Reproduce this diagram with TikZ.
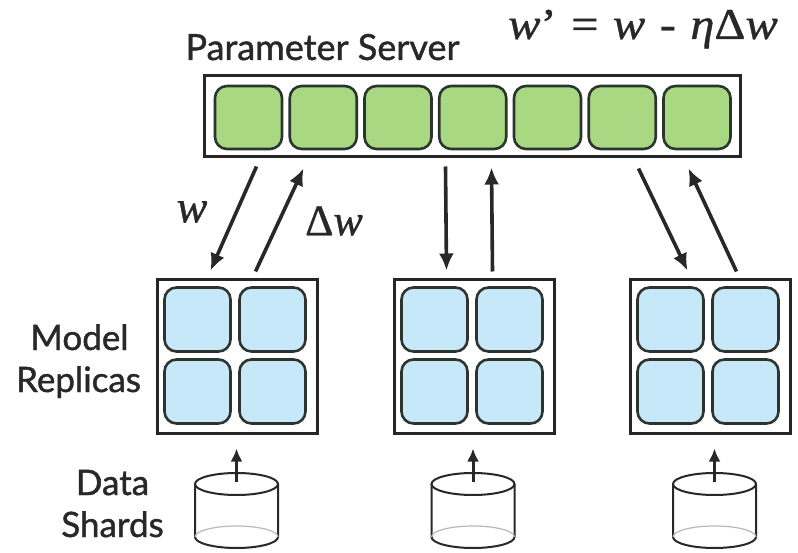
\documentclass[tikz,border=0pt]{standalone}
\usepackage{fontspec}
\usepackage{graphicx}
\setmainfont{Lato}
\newfontfamily\lblfont[FakeBold=1.2]{Lato}
\newfontfamily\eqfont[FakeBold=0.8]{Liberation Serif}
\usetikzlibrary{arrows.meta,calc}
\definecolor{psgreen}{RGB}{168,216,130}
\definecolor{repblue}{RGB}{198,232,248}
\definecolor{cellline}{RGB}{45,52,48}
\definecolor{ink}{RGB}{40,40,40}
\newcommand{\gap}{\hspace{0.3em}}
\begin{document}
\begin{tikzpicture}[x=1pt,y=-1pt,
  frame/.style={rectangle, draw=black!85, line width=3pt, fill=white, inner sep=0pt},
  pcell/.style={rectangle, draw=cellline, line width=2.6pt, rounded corners=12pt,
    fill=psgreen, minimum width=67pt, minimum height=63pt, inner sep=0pt},
  rcell/.style={rectangle, draw=cellline, line width=2.6pt, rounded corners=12pt,
    fill=repblue, minimum width=66pt, minimum height=64pt, inner sep=0pt},
  flow/.style={draw=ink, line width=3.6pt, -{Latex[length=17pt,width=15pt]}},
  feed/.style={draw=ink, line width=3pt, -{Latex[length=13pt,width=12pt]}},
  cyl/.style={draw=ink, line width=2pt},
  lbl/.style={text=ink, font=\lblfont\fontsize{35}{40}\selectfont, inner sep=0pt},
  mathlbl/.style={text=ink, font=\eqfont\fontsize{44}{48}\selectfont, inner sep=0pt}]
\useasboundingbox (0,0) rectangle (798,553);
\fill[white] (0,0) rectangle (798,553);

% parameter server
\node[frame, minimum width=536pt, minimum height=81pt] (ps) at (472,116.5) {};
\foreach \k in {0,...,6}
  \node[pcell] (p\k) at ({248.5+74.75*\k},117.5) {};
\node[lbl, font=\lblfont\fontsize{36}{40}\selectfont, anchor=base] (pstitle) at (322.5,60) {Parameter Server};
\node[mathlbl, anchor=base] (rule) at (643,39)
  {\scalebox{1.1}[1]{\itshape w\upshape’\gap=\gap\itshape w\upshape\gap-\gap\itshape η\upshape Δ\itshape w}};

% model replicas
\foreach \i/\cx in {1/237,2/474,3/710} {
  \node[frame, minimum width=160pt, minimum height=153pt] (rep\i) at (\cx,356.5) {};
  \node[rcell] (r\i a) at ($(rep\i.north west)+(42,41)$) {};
  \node[rcell] (r\i b) at ($(rep\i.north west)+(117,41)$) {};
  \node[rcell] (r\i c) at ($(rep\i.north west)+(42,113)$) {};
  \node[rcell] (r\i d) at ($(rep\i.north west)+(117,113)$) {};
}
\node[lbl, anchor=base] (lmodel) at (79.5,350) {Model};
\node[lbl, anchor=base] (lrepl) at (78.5,392) {Replicas};

% data shards
\foreach \i/\cx in {1/236.5,2/473,3/714.5} {
  \draw[cyl] (\cx-41.5,484) -- (\cx-41.5,537)
    arc[start angle=180, end angle=360, x radius=41.5pt, y radius=11pt]
    -- (\cx+41.5,484);
  \draw[gray!55, line width=1.2pt] (\cx+41.5,537)
    arc[start angle=0, end angle=180, x radius=41.5pt, y radius=11pt];
  \draw[cyl, fill=white] (\cx,484) ellipse[x radius=41.5pt, y radius=11pt];
  \coordinate (d\i) at (\cx,482);
}
\node[lbl, anchor=base] (ldata) at (112.5,495) {Data};
\node[lbl, anchor=base] (lshard) at (112.5,537) {Shards};

\foreach \i in {1,2,3}
  \draw[feed] (d\i) -- ($(d\i |- rep\i.south)+(0,14)$);

% weights down, gradients up
\draw[flow] ($(ps.south west)+(54,8)$) -- ($(rep1.north west)+(55,-8)$);
\draw[flow] ($(rep1.north west)+(100,-7)$) -- ($(ps.south west)+(101,10)$);
\draw[flow] ($(ps.south west)+(243,8)$) -- ($(rep2.north west)+(54,-8)$);
\draw[flow] ($(rep2.north west)+(100,-7)$) -- ($(ps.south west)+(289,9)$);
\draw[flow] ($(ps.south west)+(436,10)$) -- ($(rep3.north west)+(59,-8)$);
\draw[flow] ($(rep3.north west)+(108,-7)$) -- ($(ps.south west)+(486,10)$);

\node[mathlbl, font=\eqfont\itshape\fontsize{46}{50}\selectfont] (lw) at (192,212) {w};
\node[mathlbl, font=\eqfont\fontsize{44}{48}\selectfont] (ldw) at (334,221) {Δ\itshape w};
\end{tikzpicture}
\end{document}
